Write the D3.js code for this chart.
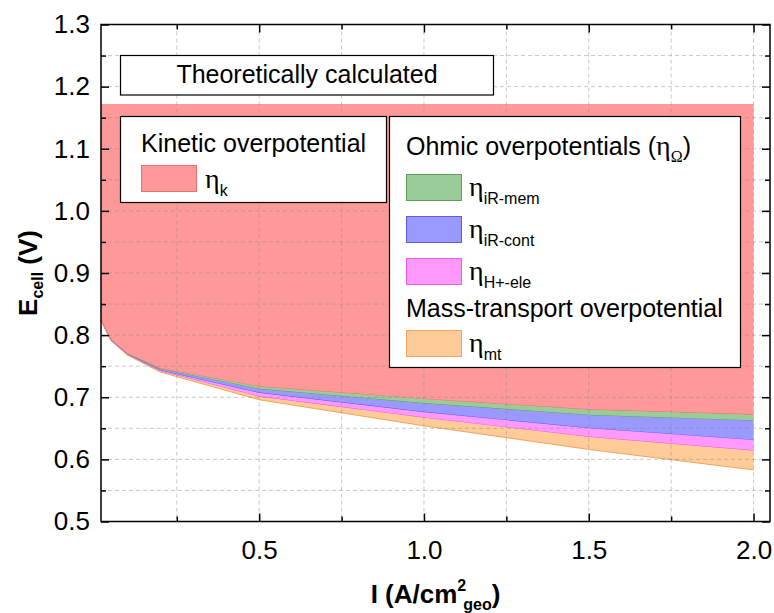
<!DOCTYPE html>
<html>
<head>
<meta charset="utf-8">
<script src="https://cdn.jsdelivr.net/npm/d3@7"></script>
<style>
body { margin: 0; background: #fff; }
svg text { font-family: "Liberation Sans", Arial, sans-serif; }
</style>
</head>
<body>
<script>
// current density, A/cm2 geo
var current = [0.02, 0.05, 0.1, 0.2, 0.5, 1.0, 1.5, 2.0];
// theoretically calculated cell potential, V
var eTheo = 1.172;
// cell potential left after each loss is taken off in turn, V
var eAfterKinetic = [0.824, 0.793, 0.770, 0.746, 0.717, 0.697, 0.680, 0.672];
var eAfterMem     = [0.824, 0.7925, 0.7695, 0.745, 0.713, 0.690, 0.671, 0.662];
var eAfterCont    = [0.824, 0.792, 0.769, 0.743, 0.707, 0.676, 0.650, 0.631];
var eAfterHele    = [0.824, 0.7915, 0.7685, 0.742, 0.701, 0.667, 0.636, 0.614];
var eAfterMt      = [0.824, 0.791, 0.768, 0.7405, 0.696, 0.654, 0.616, 0.583];

var xTicks = [0.5, 1.0, 1.5, 2.0];
var xMinor = [0.25, 0.75, 1.25, 1.75];
var yTicks = [0.5, 0.6, 0.7, 0.8, 0.9, 1.0, 1.1, 1.2, 1.3];
var yMinor = [0.55, 0.65, 0.75, 0.85, 0.95, 1.05, 1.15, 1.25];

var width = 774, height = 613;
var plotL = 101, plotR = 770, plotT = 24.5, plotB = 521.5;
var font = '"Liberation Sans", Arial, sans-serif';
var serif = '"Liberation Serif", "Times New Roman", serif';

var svg = d3.select("body").append("svg")
    .attr("width", width)
    .attr("height", height);

var x = d3.scaleLinear().domain([0.02, 2.05]).range([plotL, plotR]);
var y = d3.scaleLinear().domain([0.5, 1.3]).range([plotB, plotT]);

var theo = current.map(function () { return eTheo; });

//Stacked loss bands, top to bottom
var bands = [
    {hi: theo,          lo: eAfterKinetic, fill: "#FF9999", line: "#EE6F6F"},
    {hi: eAfterKinetic, lo: eAfterMem,     fill: "#99CC99", line: "#5FA05F"},
    {hi: eAfterMem,     lo: eAfterCont,    fill: "#9999FF", line: "#5C5CE8"},
    {hi: eAfterCont,    lo: eAfterHele,    fill: "#FF99FF", line: "#E85CE8"},
    {hi: eAfterHele,    lo: eAfterMt,      fill: "#FFCC99", line: "#F2A45A"}
];

bands.forEach(function (b) {
    var area = d3.area()
        .x(function (d, i) { return x(current[i]); })
        .y0(function (d, i) { return y(b.lo[i]); })
        .y1(function (d, i) { return y(b.hi[i]); });
    svg.append("path")
        .datum(current)
        .attr("d", area)
        .attr("fill", b.fill);
    var edge = d3.line()
        .x(function (d, i) { return x(current[i]); })
        .y(function (d, i) { return y(b.lo[i]); });
    svg.append("path")
        .datum(current)
        .attr("d", edge)
        .attr("fill", "none")
        .attr("stroke", b.line)
        .attr("stroke-width", 1);
});

//Dashed grid
var grid = svg.append("g")
    .attr("stroke", "#888")
    .attr("stroke-opacity", 0.45)
    .attr("stroke-dasharray", "4,3")
    .attr("stroke-width", 1);
grid.selectAll(".gx").data(xTicks.concat(xMinor)).enter().append("line")
    .attr("x1", function (d) { return x(d); })
    .attr("x2", function (d) { return x(d); })
    .attr("y1", plotT).attr("y2", plotB);
grid.selectAll(".gy").data(yTicks.concat(yMinor)).enter().append("line")
    .attr("y1", function (d) { return y(d); })
    .attr("y2", function (d) { return y(d); })
    .attr("x1", plotL).attr("x2", plotR);

//Axes, ticks pointing inward on all four sides
function styleAxis(g) {
    g.select(".domain").remove();
    g.selectAll("line").attr("stroke", "#000").attr("stroke-width", 1.5);
    g.selectAll("text").attr("font-family", font).attr("font-size", 26).attr("fill", "#000");
}
var fmt = d3.format(".1f");

svg.append("g").attr("transform", "translate(0," + plotB + ")")
    .call(d3.axisBottom(x).tickValues(xTicks).tickFormat(fmt).tickSize(-8).tickPadding(19))
    .call(styleAxis);
svg.append("g").attr("transform", "translate(0," + plotB + ")")
    .call(d3.axisBottom(x).tickValues(xMinor).tickFormat("").tickSize(-5))
    .call(styleAxis);
svg.append("g").attr("transform", "translate(0," + plotT + ")")
    .call(d3.axisTop(x).tickValues(xTicks).tickFormat("").tickSize(-8))
    .call(styleAxis);
svg.append("g").attr("transform", "translate(0," + plotT + ")")
    .call(d3.axisTop(x).tickValues(xMinor).tickFormat("").tickSize(-5))
    .call(styleAxis);
svg.append("g").attr("transform", "translate(" + plotL + ",0)")
    .call(d3.axisLeft(y).tickValues(yTicks).tickFormat(fmt).tickSize(-8).tickPadding(11))
    .call(styleAxis);
svg.append("g").attr("transform", "translate(" + plotL + ",0)")
    .call(d3.axisLeft(y).tickValues(yMinor).tickFormat("").tickSize(-5))
    .call(styleAxis);
svg.append("g").attr("transform", "translate(" + plotR + ",0)")
    .call(d3.axisRight(y).tickValues(yTicks).tickFormat("").tickSize(-8))
    .call(styleAxis);
svg.append("g").attr("transform", "translate(" + plotR + ",0)")
    .call(d3.axisRight(y).tickValues(yMinor).tickFormat("").tickSize(-5))
    .call(styleAxis);

svg.append("rect")
    .attr("x", plotL).attr("y", plotT)
    .attr("width", plotR - plotL).attr("height", plotB - plotT)
    .attr("fill", "none").attr("stroke", "#000").attr("stroke-width", 1.5);

//Axis titles
var yt = svg.append("text")
    .attr("transform", "translate(37," + ((plotT + plotB) / 2) + ") rotate(-90)")
    .attr("text-anchor", "middle")
    .attr("font-weight", "bold")
    .attr("font-size", 26);
yt.append("tspan").text("E");
yt.append("tspan").attr("font-size", 16).attr("dy", 6).text("cell");
yt.append("tspan").attr("dy", -6).text(" (V)");

var xt = svg.append("text")
    .attr("x", (plotL + plotR) / 2)
    .attr("y", 603)
    .attr("text-anchor", "middle")
    .attr("font-weight", "bold")
    .attr("font-size", 26);
xt.append("tspan").text("I (A/cm");
xt.append("tspan").attr("font-size", 16).attr("dy", -12).text("2");
xt.append("tspan").attr("font-size", 16).attr("dy", 19).attr("dx", -3).text("geo");
xt.append("tspan").attr("dy", -7).text(")");

//Legend boxes
function box(x0, y0, w, h) {
    svg.append("rect")
        .attr("x", x0).attr("y", y0).attr("width", w).attr("height", h)
        .attr("fill", "#fff").attr("stroke", "#000").attr("stroke-width", 1.2);
}
function label(x0, y0, txt) {
    return svg.append("text").attr("x", x0).attr("y", y0)
        .attr("font-size", 25).attr("fill", "#000").text(txt);
}
function eta(x0, y0, sub) {
    var t = svg.append("text").attr("x", x0).attr("y", y0).attr("fill", "#000");
    t.append("tspan").attr("font-family", serif).attr("font-size", 28).text("\u03B7");
    t.append("tspan").attr("font-size", 16).attr("dy", 8).text(sub);
}
function swatch(x0, y0, b) {
    svg.append("rect")
        .attr("x", x0).attr("y", y0).attr("width", 55).attr("height", 26)
        .attr("fill", b.fill).attr("stroke", b.line).attr("stroke-width", 1);
}

box(120.5, 55.5, 373, 39.5);
label(307, 83, "Theoretically calculated").attr("text-anchor", "middle");

box(120.5, 116.5, 266, 86);
label(141, 152, "Kinetic overpotential");
swatch(141.5, 165.5, bands[0]);
eta(205, 188, "k");

box(389.5, 116.5, 351, 251);
var oh = label(406, 155, "Ohmic overpotentials (");
oh.append("tspan").attr("font-family", serif).attr("font-size", 28).text("\u03B7");
oh.append("tspan").attr("font-family", serif).attr("font-size", 16).attr("dy", 7).text("\u03A9");
oh.append("tspan").attr("dy", -7).text(")");
swatch(406.5, 174.5, bands[1]);
eta(469, 196, "iR-mem");
swatch(406.5, 216.5, bands[2]);
eta(469, 238, "iR-cont");
swatch(406.5, 258.5, bands[3]);
eta(469, 280, "H+-ele");
label(406, 317, "Mass-transport overpotential");
swatch(406.5, 330.5, bands[4]);
eta(469, 352, "mt");
</script>
</body>
</html>
